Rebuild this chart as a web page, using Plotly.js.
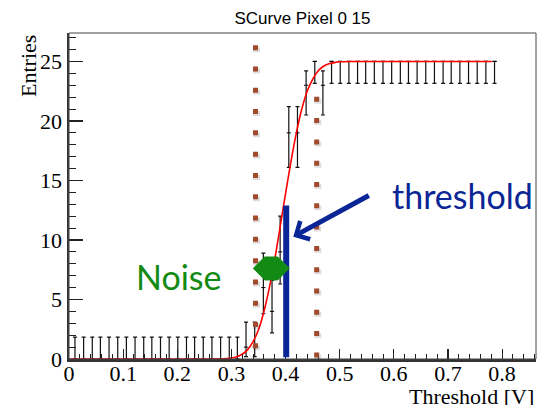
<!DOCTYPE html>
<html>
<head>
<meta charset="utf-8">
<script src="https://cdn.plot.ly/plotly-3.0.1.min.js"></script>
<style>html,body{margin:0;padding:0;background:#fff;}#chart{width:537px;height:405px;}</style>
</head>
<body>
<div id="chart"></div>
<script>
// Histogram points (threshold voltage, entries) with asymmetric error bars
const thresholds = [0.011,0.027,0.043,0.058,0.074,0.090,0.106,0.122,0.138,0.153,
                    0.169,0.185,0.201,0.217,0.232,0.248,0.264,0.280,0.296,0.311,
                    0.327,0.343,0.359,0.375,0.390,0.406,0.422,0.438,0.454,0.469,
                    0.485,0.501,0.517,0.533,0.548,0.564,0.580,0.596,0.612,0.627,
                    0.643,0.659,0.675,0.691,0.706,0.722,0.738,0.754,0.770,0.786];
const entries = [0,0,0,0,0,0,0,0,0,0,
                 0,0,0,0,0,0,0,0,0,0,
                 1,1,6,4,9,19,19,23,25,23,
                 25,25,25,25,25,25,25,25,25,25,
                 25,25,25,25,25,25,25,25,25,25];
const errUp = [1.84,1.84,1.84,1.84,1.84,1.84,1.84,1.84,1.84,1.84,
               1.84,1.84,1.84,1.84,1.84,1.84,1.84,1.84,1.84,1.84,
               2.1,2.1,2.9,2.6,3.0,2.2,2.2,1.2,0,1.2,
               0,0,0,0,0,0,0,0,0,0,
               0,0,0,0,0,0,0,0,0,0];
const errDown = [0,0,0,0,0,0,0,0,0,0,
                 0,0,0,0,0,0,0,0,0,0,
                 0.8,0.8,2.2,1.8,2.7,2.9,2.9,2.5,1.84,2.5,
                 1.84,1.84,1.84,1.84,1.84,1.84,1.84,1.84,1.84,1.84,
                 1.84,1.84,1.84,1.84,1.84,1.84,1.84,1.84,1.84,1.84];
// Fitted S-curve
const fitX = [0,0.26,0.28,0.30,0.31,0.32,0.33,0.34,0.35,0.36,0.37,0.38,0.39,0.40,0.41,
              0.42,0.43,0.44,0.45,0.46,0.47,0.48,0.49,0.50,0.52,0.55,0.781];
const fitY = [0,0,0.01,0.08,0.19,0.40,0.79,1.46,2.46,3.97,5.97,8.35,11.1,13.9,16.6,
              19.0,21.0,22.5,23.5,24.2,24.6,24.8,24.9,24.97,25,25,25];

const titleText = 'SCurve Pixel 0 15';
const xTitle = 'Threshold [V]';
const yTitle = 'Entries';

const serif = 'Liberation Serif, Times New Roman, serif';
const brown = '#a24a2c';
const blue = '#0a2596';
const green = '#138a13';

const traces = [
  {
    x: thresholds, y: entries, type: 'scatter', mode: 'markers',
    marker: {size: 3, color: '#000', symbol: 'line-ew', line: {width: 1, color: '#000'}},
    error_y: {type: 'data', symmetric: false, array: errUp, arrayminus: errDown,
              color: '#111', thickness: 1.2, width: 2},
    hoverinfo: 'skip', showlegend: false
  },
  {
    x: fitX, y: fitY, type: 'scatter', mode: 'lines',
    line: {color: '#ff0000', width: 1.6, shape: 'spline', smoothing: 0.6},
    hoverinfo: 'skip', showlegend: false
  }
];

const dotDash = '5px,16.3px';
const shapes = [
  // frame
  {type: 'rect', xref: 'paper', yref: 'paper', x0: 0, x1: 1, y0: 0, y1: 1,
   line: {color: '#444', width: 1}, layer: 'above'},
  // shadows of the dotted markers
  {type: 'line', xref: 'x', yref: 'y', x0: 0.3465, x1: 0.3465, y0: 26.20, y1: 0.71,
   line: {color: 'rgba(0,0,0,0.13)', width: 7, dash: dotDash}, layer: 'above'},
  {type: 'line', xref: 'x', yref: 'y', x0: 0.4595, x1: 0.4595, y0: 21.86, y1: -0.04,
   line: {color: 'rgba(0,0,0,0.13)', width: 7, dash: dotDash}, layer: 'above'},
  // dotted vertical markers
  {type: 'line', xref: 'x', yref: 'y', x0: 0.3445, x1: 0.3445, y0: 26.37, y1: 0.88,
   line: {color: brown, width: 5, dash: dotDash}, layer: 'above'},
  {type: 'line', xref: 'x', yref: 'y', x0: 0.4575, x1: 0.4575, y0: 22.03, y1: 0.13,
   line: {color: brown, width: 5, dash: dotDash}, layer: 'above'},
  // threshold bar
  {type: 'line', xref: 'x', yref: 'y', x0: 0.4012, x1: 0.4012, y0: 0.15, y1: 12.9,
   line: {color: blue, width: 6}, layer: 'above'},
  // noise double arrow
  {type: 'path', xref: 'x', yref: 'y',
   path: 'M 0.3404 7.62 L 0.3615 8.57 L 0.3855 8.57 L 0.4070 7.62 L 0.3855 6.64 L 0.3615 6.64 Z',
   fillcolor: green, line: {color: green, width: 1}, layer: 'above'}
];

const annotations = [
  {text: 'threshold', xref: 'x', yref: 'y', x: 0.7277, y: 13.75, showarrow: false,
   font: {family: 'Lato, Open Sans, sans-serif', size: 34, color: blue},
   xanchor: 'center', yanchor: 'middle'},
  {text: 'Noise', xref: 'x', yref: 'y', x: 0.204, y: 6.9, showarrow: false,
   font: {family: 'Lato, Open Sans, sans-serif', size: 34, color: green},
   xanchor: 'center', yanchor: 'middle'},
  {text: '', xref: 'x', yref: 'y', x: 0.4143, y: 10.28, showarrow: true,
   ax: 77, ay: -42, arrowhead: 4, arrowsize: 0.8, arrowwidth: 5, arrowcolor: blue,
   standoff: 0},
  {text: xTitle, xref: 'paper', yref: 'paper', x: 1, y: 0, xanchor: 'right', yanchor: 'middle',
   yshift: -37, showarrow: false, font: {family: serif, size: 22, color: '#000'}},
  {text: yTitle, xref: 'paper', yref: 'paper', x: 0, y: 1, xanchor: 'center', yanchor: 'top',
   xshift: -41, textangle: -90, showarrow: false, font: {family: serif, size: 22, color: '#000'}}
];

const layout = {
  width: 537, height: 405,
  margin: {l: 69, r: 1, t: 33, b: 46, pad: 0},
  paper_bgcolor: '#fff', plot_bgcolor: '#fff',
  showlegend: false,
  title: {text: titleText, font: {family: 'Liberation Sans, Arial, sans-serif', size: 17, color: '#000'},
          x: 0.5, xref: 'paper', xanchor: 'center', y: 0.955, yref: 'container', yanchor: 'middle'},
  xaxis: {
    range: [0, 0.8626], showgrid: false, zeroline: false,
    showline: true, linecolor: '#333', linewidth: 2.5,
    ticks: 'inside', ticklen: 10, tickwidth: 1.2, tickcolor: '#222', dtick: 0.1, tick0: 0,
    minor: {dtick: 0.02, ticks: 'inside', ticklen: 5, tickwidth: 1, tickcolor: '#222'},
    ticklabelstandoff: -7,
    tickfont: {family: serif, size: 22, color: '#000'}
  },
  yaxis: {
    range: [0, 27.39], showgrid: false, zeroline: false,
    showline: true, linecolor: '#333', linewidth: 2.5,
    ticks: 'inside', ticklen: 14, tickwidth: 1.2, tickcolor: '#222', dtick: 5, tick0: 0,
    minor: {dtick: 1, ticks: 'inside', ticklen: 7, tickwidth: 1, tickcolor: '#222'},
    tickfont: {family: serif, size: 22, color: '#000'}
  },
  shapes: shapes,
  annotations: annotations
};

Plotly.newPlot('chart', traces, layout, {staticPlot: true, displayModeBar: false});
</script>
</body>
</html>
